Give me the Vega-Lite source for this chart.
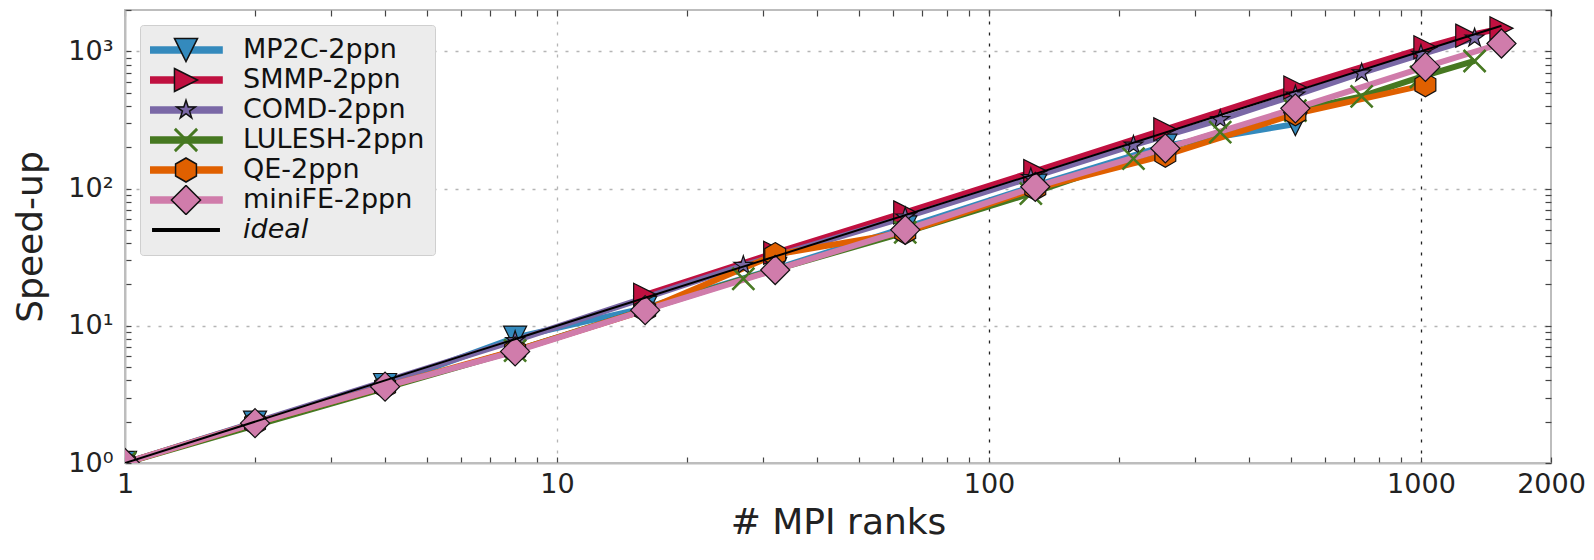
{
  "$schema": "https://vega.github.io/schema/vega-lite/v6.json",
  "width": 1426,
  "height": 453,
  "autosize": {"type": "none"},
  "padding": {"left": 125, "top": 10, "right": 43, "bottom": 97},
  "background": "white",
  "datasets": {
    "pts": [
      {"series": "MP2C-2ppn", "ranks": 1, "speedup": 1},
      {"series": "MP2C-2ppn", "ranks": 2, "speedup": 1.97},
      {"series": "MP2C-2ppn", "ranks": 4, "speedup": 3.7},
      {"series": "MP2C-2ppn", "ranks": 8, "speedup": 8.2},
      {"series": "MP2C-2ppn", "ranks": 16, "speedup": 13.5},
      {"series": "MP2C-2ppn", "ranks": 32, "speedup": 26},
      {"series": "MP2C-2ppn", "ranks": 64, "speedup": 52},
      {"series": "MP2C-2ppn", "ranks": 128, "speedup": 105},
      {"series": "MP2C-2ppn", "ranks": 256, "speedup": 205},
      {"series": "MP2C-2ppn", "ranks": 512, "speedup": 295},
      {"series": "SMMP-2ppn", "ranks": 16, "speedup": 16.8},
      {"series": "SMMP-2ppn", "ranks": 32, "speedup": 34},
      {"series": "SMMP-2ppn", "ranks": 64, "speedup": 67},
      {"series": "SMMP-2ppn", "ranks": 128, "speedup": 134},
      {"series": "SMMP-2ppn", "ranks": 256, "speedup": 270},
      {"series": "SMMP-2ppn", "ranks": 512, "speedup": 545},
      {"series": "SMMP-2ppn", "ranks": 1024, "speedup": 1070},
      {"series": "SMMP-2ppn", "ranks": 1280, "speedup": 1300},
      {"series": "SMMP-2ppn", "ranks": 1536, "speedup": 1470},
      {"series": "COMD-2ppn", "ranks": 1, "speedup": 1},
      {"series": "COMD-2ppn", "ranks": 8, "speedup": 7.8},
      {"series": "COMD-2ppn", "ranks": 27, "speedup": 27.5},
      {"series": "COMD-2ppn", "ranks": 64, "speedup": 62},
      {"series": "COMD-2ppn", "ranks": 125, "speedup": 120},
      {"series": "COMD-2ppn", "ranks": 216, "speedup": 207},
      {"series": "COMD-2ppn", "ranks": 343, "speedup": 318},
      {"series": "COMD-2ppn", "ranks": 512, "speedup": 480},
      {"series": "COMD-2ppn", "ranks": 729, "speedup": 695},
      {"series": "COMD-2ppn", "ranks": 1000, "speedup": 950},
      {"series": "COMD-2ppn", "ranks": 1331, "speedup": 1250},
      {"series": "LULESH-2ppn", "ranks": 1, "speedup": 1},
      {"series": "LULESH-2ppn", "ranks": 8, "speedup": 6.6},
      {"series": "LULESH-2ppn", "ranks": 27, "speedup": 22},
      {"series": "LULESH-2ppn", "ranks": 64, "speedup": 48},
      {"series": "LULESH-2ppn", "ranks": 125, "speedup": 92},
      {"series": "LULESH-2ppn", "ranks": 216, "speedup": 165},
      {"series": "LULESH-2ppn", "ranks": 343, "speedup": 258},
      {"series": "LULESH-2ppn", "ranks": 512, "speedup": 370},
      {"series": "LULESH-2ppn", "ranks": 729, "speedup": 470},
      {"series": "LULESH-2ppn", "ranks": 1000, "speedup": 650},
      {"series": "LULESH-2ppn", "ranks": 1331, "speedup": 850},
      {"series": "QE-2ppn", "ranks": 1, "speedup": 1},
      {"series": "QE-2ppn", "ranks": 2, "speedup": 1.95},
      {"series": "QE-2ppn", "ranks": 4, "speedup": 3.6},
      {"series": "QE-2ppn", "ranks": 8, "speedup": 6.6},
      {"series": "QE-2ppn", "ranks": 16, "speedup": 13},
      {"series": "QE-2ppn", "ranks": 32, "speedup": 33},
      {"series": "QE-2ppn", "ranks": 64, "speedup": 48},
      {"series": "QE-2ppn", "ranks": 128, "speedup": 100},
      {"series": "QE-2ppn", "ranks": 256, "speedup": 175},
      {"series": "QE-2ppn", "ranks": 512, "speedup": 350},
      {"series": "QE-2ppn", "ranks": 1024, "speedup": 570},
      {"series": "miniFE-2ppn", "ranks": 1, "speedup": 1},
      {"series": "miniFE-2ppn", "ranks": 2, "speedup": 1.95},
      {"series": "miniFE-2ppn", "ranks": 4, "speedup": 3.6},
      {"series": "miniFE-2ppn", "ranks": 8, "speedup": 6.5},
      {"series": "miniFE-2ppn", "ranks": 16, "speedup": 13},
      {"series": "miniFE-2ppn", "ranks": 32, "speedup": 25.5},
      {"series": "miniFE-2ppn", "ranks": 64, "speedup": 50},
      {"series": "miniFE-2ppn", "ranks": 128, "speedup": 103},
      {"series": "miniFE-2ppn", "ranks": 256, "speedup": 196},
      {"series": "miniFE-2ppn", "ranks": 512, "speedup": 384},
      {"series": "miniFE-2ppn", "ranks": 1024, "speedup": 770},
      {"series": "miniFE-2ppn", "ranks": 1536, "speedup": 1140},
      {"series": "ideal", "ranks": 1, "speedup": 1},
      {"series": "ideal", "ranks": 1536, "speedup": 1536}
    ]
  },
  "data": {"name": "pts"},
  "resolve": {"axis": {"x": "independent", "y": "independent"}},
  "layer": [
    {
      "transform": [{"filter": "datum.series !== 'ideal'"}],
      "mark": {"type": "line", "strokeWidth": 6, "clip": true},
      "encoding": {
        "x": {
          "field": "ranks", "type": "quantitative",
          "scale": {"type": "log", "domain": [1, 2000], "nice": false},
          "axis": {
            "orient": "bottom",
            "values": [1,2,3,4,5,6,7,8,9,10,20,30,40,50,60,70,80,90,100,200,300,400,500,600,700,800,900,1000,2000],
            "labelExpr": "indexof([1,10,100,1000,2000], datum.value) >= 0 ? '' + datum.value : ''",
            "labelOverlap": false, "labelFlush": false,
            "labelFont": "DejaVu Sans", "labelFontSize": 27, "labelColor": "#222", "labelPadding": 14,
            "grid": true,
            "gridColor": {"condition": {"test": "datum.value >= 100", "value": "#222"}, "value": "#b5b5b5"},
            "gridOpacity": {"condition": {"test": "indexof([10,100,1000], datum.value) >= 0", "value": 1}, "value": 0},
            "gridDash": [3, 8], "gridWidth": 1.3,
            "domainColor": "#bdbdbd", "domainWidth": 2,
            "tickColor": "#444", "tickSize": -6, "tickWidth": 1.2,
            "title": "# MPI ranks", "titleFont": "DejaVu Sans", "titleFontSize": 36, "titleFontWeight": "normal", "titleColor": "#222", "titlePadding": 8
          }
        },
        "y": {
          "field": "speedup", "type": "quantitative",
          "scale": {"type": "log", "domain": [1, 2000], "nice": false},
          "axis": {
            "orient": "left",
            "values": [1,2,3,4,5,6,7,8,9,10,20,30,40,50,60,70,80,90,100,200,300,400,500,600,700,800,900,1000,2000],
            "labelExpr": "datum.value == 1 ? '10⁰' : datum.value == 10 ? '10¹' : datum.value == 100 ? '10²' : datum.value == 1000 ? '10³' : ''",
            "labelOverlap": false, "labelFlush": false,
            "labelFont": "DejaVu Sans", "labelFontSize": 27, "labelColor": "#222", "labelPadding": 18,
            "grid": true,
            "gridColor": "#b5b5b5",
            "gridOpacity": {"condition": {"test": "indexof([10,100,1000], datum.value) >= 0", "value": 1}, "value": 0},
            "gridDash": [3, 8], "gridWidth": 1.3,
            "domainColor": "#bdbdbd", "domainWidth": 2,
            "tickColor": "#444", "tickSize": -6, "tickWidth": 1.2,
            "title": "Speed-up", "titleFont": "DejaVu Sans", "titleFontSize": 36, "titleFontWeight": "normal", "titleColor": "#222", "titlePadding": 18
          }
        },
        "color": {
          "field": "series", "type": "nominal",
          "scale": {
            "domain": ["MP2C-2ppn", "SMMP-2ppn", "COMD-2ppn", "LULESH-2ppn", "QE-2ppn", "miniFE-2ppn", "ideal"],
            "range": ["#348ABD", "#C01040", "#7A68A6", "#467821", "#E06000", "#D07CAB", "#000000"]
          },
          "legend": {
            "title": null, "orient": "none", "legendX": 15, "legendY": 15, "zindex": 1,
            "fillColor": "#ececec", "strokeColor": "#cfcfcf", "padding": 10, "cornerRadius": 3,
            "symbolSize": 1000, "symbolStrokeWidth": 1.5, "symbolOffset": 19, "labelOffset": 40,
            "clipHeight": 30,
            "labelFont": "DejaVu Sans", "labelFontSize": 27, "labelColor": "#111", "rowPadding": 0, "labelLimit": 400,
            "encode": {
              "symbols": {"update": {
                "shape": {"signal": "datum.value === 'ideal' ? 'M-2.1,-0.08L2.1,-0.08L2.1,0.08L-2.1,0.08Z' : 'M-2.28,-0.19L2.28,-0.19L2.28,0.19L-2.28,0.19Z'"},
                "fill": {"scale": "color", "field": "value"},
                "stroke": {"value": "transparent"},
                "opacity": {"value": 1}
              }},
              "labels": {"update": {"fontStyle": {"signal": "datum.value === 'ideal' ? 'italic' : 'normal'"}}}
            }
          }
        }
      }
    },
    {
      "transform": [{"filter": "datum.series !== 'ideal'"}],
      "mark": {"type": "point", "filled": true, "opacity": 1, "strokeWidth": 1.2, "size": 1000, "clip": true},
      "encoding": {
        "x": {"field": "ranks", "type": "quantitative", "axis": null},
        "y": {"field": "speedup", "type": "quantitative", "axis": null},
        "fill": {
          "field": "series", "type": "nominal",
          "scale": {
            "domain": ["MP2C-2ppn", "SMMP-2ppn", "COMD-2ppn", "LULESH-2ppn", "QE-2ppn", "miniFE-2ppn"],
            "range": ["#348ABD", "#C01040", "#7A68A6", "#467821", "#E06000", "#D07CAB"]
          },
          "legend": {
            "title": null, "orient": "none", "legendX": 15, "legendY": 15, "zindex": 5,
            "fillColor": "transparent", "strokeColor": "transparent", "padding": 10,
            "symbolSize": 1000, "symbolStrokeWidth": 1.5, "symbolOffset": 19, "labelOffset": 40,
            "clipHeight": 30,
            "labelExpr": "''",
            "labelFont": "DejaVu Sans", "labelFontSize": 27, "labelOpacity": 0, "rowPadding": 0, "labelLimit": 400,
            "encode": {
              "symbols": {"update": {
                "shape": {"scale": "shape", "field": "value"},
                "fill": {"scale": "fill", "field": "value"},
                "stroke": {"signal": "datum.value === 'LULESH-2ppn' ? '#467821' : '#111111'"},
                "opacity": {"value": 1}
              }}
            }
          }
        },
        "stroke": {
          "field": "series", "type": "nominal",
          "scale": {
            "domain": ["MP2C-2ppn", "SMMP-2ppn", "COMD-2ppn", "LULESH-2ppn", "QE-2ppn", "miniFE-2ppn"],
            "range": ["#111111", "#111111", "#111111", "#467821", "#111111", "#111111"]
          },
          "legend": {"title": null}
        },
        "shape": {
          "field": "series", "type": "nominal",
          "scale": {
            "domain": ["MP2C-2ppn", "SMMP-2ppn", "COMD-2ppn", "LULESH-2ppn", "QE-2ppn", "miniFE-2ppn"],
            "range": [
              "M-0.73,-0.73L0.73,-0.73L0,0.73Z",
              "M-0.73,-0.73L0.73,0L-0.73,0.73Z",
              "M0,-0.62L0.139,-0.192L0.59,-0.192L0.225,0.073L0.365,0.502L0,0.237L-0.365,0.502L-0.225,0.073L-0.59,-0.192L-0.139,-0.192Z",
              "M-0.7,-0.64L-0.64,-0.7L0,-0.06L0.64,-0.7L0.7,-0.64L0.06,0L0.7,0.64L0.64,0.7L0,0.06L-0.64,0.7L-0.7,0.64L-0.06,0Z",
              "M0,-0.76L0.66,-0.38L0.66,0.38L0,0.76L-0.66,0.38L-0.66,-0.38Z",
              "M0,-0.92L0.92,0L0,0.92L-0.92,0Z"
            ]
          },
          "legend": {"title": null}
        }
      }
    },
    {
      "transform": [{"filter": "datum.series === 'ideal'"}],
      "mark": {"type": "line", "color": "#000000", "strokeWidth": 2, "clip": true},
      "encoding": {
        "x": {
          "field": "ranks", "type": "quantitative",
          "axis": {
            "orient": "top", "title": null, "labels": false, "grid": false, "domain": false,
            "values": [1,2,3,4,5,6,7,8,9,10,20,30,40,50,60,70,80,90,100,200,300,400,500,600,700,800,900,1000,2000],
            "tickColor": "#444", "tickSize": -6, "tickWidth": 1.2
          }
        },
        "y": {
          "field": "speedup", "type": "quantitative",
          "axis": {
            "orient": "right", "title": null, "labels": false, "grid": false, "domain": false,
            "values": [1,2,3,4,5,6,7,8,9,10,20,30,40,50,60,70,80,90,100,200,300,400,500,600,700,800,900,1000,2000],
            "tickColor": "#444", "tickSize": -6, "tickWidth": 1.2
          }
        }
      }
    }
  ],
  "config": {
    "view": {"stroke": "#bdbdbd", "strokeWidth": 2}
  }
}
